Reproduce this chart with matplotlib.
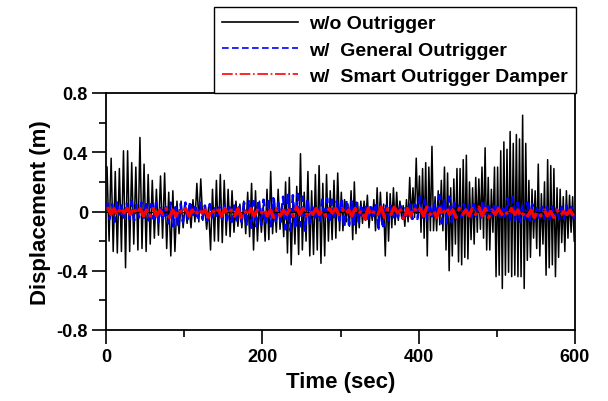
import numpy as np
import matplotlib
matplotlib.use('Agg')
import matplotlib.pyplot as plt

plt.rcParams['font.family'] = ['Liberation Sans', 'DejaVu Sans']
plt.rcParams['font.weight'] = 'bold'

# 100 s windows, each holding alternating peak / trough values
window_edges = [0, 100, 200, 300, 400, 500, 600]

wo_outrigger = [
    [0.30, -0.20, 0.36, -0.27, 0.27, -0.28, 0.29, -0.27, 0.41, -0.38, 0.41, -0.27,
     0.33, -0.22, 0.30, -0.26, 0.50, -0.25, 0.32, -0.27, 0.25, -0.22, 0.21, -0.18,
     0.15, -0.16, 0.24, -0.18, 0.26, -0.25, 0.13, -0.30, 0.14, -0.27, 0.07, -0.15,
     0.07, -0.11],
    [0.05, -0.08, 0.04, -0.11, 0.08, -0.07, 0.19, -0.07, 0.22, -0.06, 0.04, -0.12,
     0.03, -0.26, 0.15, -0.20, 0.21, -0.20, 0.25, -0.21, 0.21, -0.16, 0.15, -0.17,
     0.14, -0.14, 0.07, -0.10, 0.05, -0.11, 0.07, -0.15, 0.13, -0.17, 0.19, -0.26,
     0.14, -0.20, 0.07, -0.14],
    [0.04, -0.20, 0.15, -0.19, 0.27, -0.15, 0.08, -0.14, 0.15, -0.12, 0.05, -0.17,
     0.20, -0.28, 0.23, -0.36, 0.10, -0.22, 0.17, -0.29, 0.39, -0.26, 0.13, -0.20,
     0.27, -0.30, 0.14, -0.29, 0.25, -0.26, 0.31, -0.35, 0.19, -0.30, 0.25, -0.20,
     0.14, -0.19, 0.21, -0.18, 0.26, -0.13],
    [0.13, -0.13, 0.08, -0.07, 0.05, -0.10, 0.14, -0.19, 0.20, -0.15, 0.06, -0.11,
     0.07, -0.08, 0.07, -0.06, 0.11, -0.11, 0.03, -0.06, 0.08, -0.13, 0.16, -0.12,
     0.13, -0.09, 0.05, -0.30, 0.13, -0.20, 0.12, -0.11, 0.16, -0.09, 0.13, -0.06,
     0.07, -0.04, 0.04, -0.10, 0.08, -0.07, 0.23, -0.05, 0.16, -0.04, 0.36, -0.04],
    [0.24, -0.14, 0.29, -0.18, 0.33, -0.30, 0.30, -0.13, 0.44, -0.13, 0.10, -0.13,
     0.14, -0.09, 0.21, -0.13, 0.30, -0.26, 0.26, -0.40, 0.16, -0.30, 0.22, -0.22,
     0.29, -0.34, 0.29, -0.36, 0.35, -0.31, 0.38, -0.32, 0.20, -0.19, 0.16, -0.22,
     0.23, -0.14, 0.22, -0.12, 0.30, -0.18, 0.43, -0.26, 0.23, -0.26, 0.15, -0.14,
     0.30, -0.44],
    [0.30, -0.43, 0.41, -0.52, 0.47, -0.43, 0.42, -0.41, 0.54, -0.44, 0.46, -0.43,
     0.52, -0.44, 0.49, -0.44, 0.65, -0.52, 0.46, -0.33, 0.21, -0.31, 0.15, -0.18,
     0.14, -0.25, 0.32, -0.30, 0.12, -0.22, 0.20, -0.43, 0.35, -0.38, 0.31, -0.36,
     0.29, -0.44, 0.16, -0.31, 0.15, -0.21, 0.10, -0.27, 0.14, -0.18, 0.11, -0.14,
     0.10, -0.20],
]

general_outrigger = [
    [0.06, -0.05, 0.05, -0.07, 0.07, -0.04, 0.05, -0.06, 0.06, -0.05, 0.07, -0.06,
     0.05, -0.04, 0.06, -0.05, 0.07, -0.06, 0.05, -0.05, 0.06, -0.07, 0.04, -0.06,
     0.05, -0.08, 0.06, -0.10, 0.03, -0.09, 0.05, -0.07],
    [0.06, -0.05, 0.07, -0.04, 0.05, -0.06, 0.06, -0.05, 0.04, -0.06, 0.05, -0.04,
     0.04, -0.05, 0.03, -0.05, 0.04, -0.06, 0.03, -0.07, 0.04, -0.06, 0.03, -0.07,
     0.06, -0.09, 0.08, -0.11, 0.07, -0.10, 0.08, -0.09],
    [0.08, -0.09, 0.07, -0.10, 0.09, -0.08, 0.06, -0.07, 0.10, -0.12, 0.12, -0.13,
     0.11, -0.12, 0.12, -0.10, 0.10, -0.13, 0.09, -0.08, 0.05, -0.06, 0.04, -0.07,
     0.08, -0.06, 0.09, -0.07, 0.08, -0.06, 0.07, -0.06],
    [0.09, -0.11, 0.08, -0.09, 0.07, -0.10, 0.06, -0.07, 0.05, -0.05, 0.04, -0.06,
     0.05, -0.05, 0.06, -0.11, 0.04, -0.10, 0.05, -0.06, 0.04, -0.05, 0.03, -0.04,
     0.04, -0.05, 0.03, -0.04, 0.05, -0.05, 0.07, -0.05],
    [0.10, -0.05, 0.08, -0.06, 0.05, -0.04, 0.06, -0.05, 0.11, -0.08, 0.09, -0.08,
     0.10, -0.07, 0.06, -0.05, 0.04, -0.04, 0.05, -0.03, 0.04, -0.04, 0.05, -0.03,
     0.04, -0.04, 0.07, -0.04, 0.06, -0.05, 0.05, -0.04],
    [0.05, -0.06, 0.04, -0.05, 0.09, -0.07, 0.10, -0.06, 0.06, -0.07, 0.05, -0.07,
     0.06, -0.06, 0.05, -0.07, 0.04, -0.05, 0.03, -0.05, 0.03, -0.06, 0.04, -0.05,
     0.03, -0.05, 0.03, -0.05, 0.04, -0.04, 0.03, -0.05],
]

smart_damper = [
    [0.03, -0.02, 0.02, -0.03, 0.03, -0.01, 0.02, -0.02, 0.03, -0.02, 0.02, -0.03,
     0.01, -0.04, 0.02, -0.03, 0.01, -0.02, 0.02, -0.04, 0.01, -0.03, 0.02, -0.02],
    [0.02, -0.03, 0.01, -0.03, 0.02, -0.01, 0.01, -0.04, 0.02, -0.02, 0.01, -0.03,
     0.02, -0.02, 0.01, -0.03, 0.02, -0.04, 0.01, -0.03, 0.02, -0.03, 0.01, -0.02],
    [0.02, -0.03, 0.01, -0.04, 0.02, -0.03, 0.01, -0.02, 0.02, -0.03, 0.03, -0.02,
     0.02, -0.03, 0.01, -0.02, 0.02, -0.02, 0.01, -0.03, 0.02, -0.01, 0.02, -0.02],
    [0.02, -0.02, 0.01, -0.03, 0.02, -0.02, 0.01, -0.05, 0.02, -0.03, 0.01, -0.02,
     0.03, -0.04, 0.02, -0.02, 0.03, -0.01, 0.01, -0.06, 0.02, -0.03, 0.03, -0.01],
    [0.02, -0.03, 0.03, -0.02, 0.01, -0.04, 0.02, -0.03, 0.03, -0.02, 0.01, -0.04,
     0.02, -0.02, 0.01, -0.03, 0.02, -0.02, 0.03, -0.03, 0.02, -0.04, 0.01, -0.02],
    [0.02, -0.02, 0.01, -0.03, 0.02, -0.02, 0.01, -0.04, 0.00, -0.03, 0.01, -0.04,
     0.00, -0.03, 0.01, -0.03, 0.00, -0.04, 0.01, -0.03, 0.00, -0.02, 0.01, -0.03],
]

labels = ['w/o Outrigger', 'w/  General Outrigger', 'w/  Smart Outrigger Damper']


def spread(windows):
    # place the peaks of each window evenly inside its 100 s span
    t, y = [], []
    for k, vals in enumerate(windows):
        a, b = window_edges[k], window_edges[k + 1]
        n = len(vals)
        t.extend(a + (b - a) * (np.arange(n) + 0.5) / n)
        y.extend(vals)
    return np.array(t), np.array(y)


fig = plt.figure(figsize=(6.08, 4.02), dpi=100)
ax = fig.add_axes([106 / 608, 1 - 331 / 402, (575 - 106) / 608, (331 - 94) / 402])

t0, y0 = spread(wo_outrigger)
t1, y1 = spread(general_outrigger)
t2, y2 = spread(smart_damper)

ax.plot(t0, y0, color='black', lw=1.1, label=labels[0], zorder=2)
ax.plot(t1, y1, color='#0000ff', lw=1.8, ls='--', dashes=(4, 2), label=labels[1], zorder=3)
ax.axhline(0, color='black', lw=0.8, zorder=3.5)
ax.plot(t2, y2, color='#ff0000', lw=2.4, ls='-.', label=labels[2], zorder=4)

ax.set_xlim(0, 600)
ax.set_ylim(-0.8, 0.8)
ax.set_xticks([0, 200, 400, 600])
ax.set_xticks([100, 300, 500], minor=True)
ax.set_yticks([-0.8, -0.4, 0, 0.4, 0.8])
ax.set_yticklabels(['-0.8', '-0.4', '0', '0.4', '0.8'])
ax.set_yticks([-0.6, -0.2, 0.2, 0.6], minor=True)
ax.tick_params(which='major', direction='out', length=10, width=1.2, labelsize=13, pad=3)
ax.tick_params(which='minor', direction='out', length=5, width=1.2)
for lab in ax.get_xticklabels() + ax.get_yticklabels():
    lab.set_fontweight('bold')
for s in ax.spines.values():
    s.set_linewidth(1.3)

ax.set_xlabel('Time (sec)', fontsize=16, fontweight='bold', labelpad=4)
ax.set_ylabel('Displacement (m)', fontsize=16, fontweight='bold', labelpad=4)

leg = ax.legend(loc='lower right', bbox_to_anchor=(1.002, 1.0), borderaxespad=0,
                fancybox=False, framealpha=1, edgecolor='black',
                prop={'size': 14, 'weight': 'bold'}, handlelength=3.9,
                handletextpad=0.6, labelspacing=0.45, borderpad=0.4)
leg.get_frame().set_linewidth(1.0)
for h in leg.get_lines():
    h.set_linewidth(1.2)

fig.savefig('out.png', dpi=100)
